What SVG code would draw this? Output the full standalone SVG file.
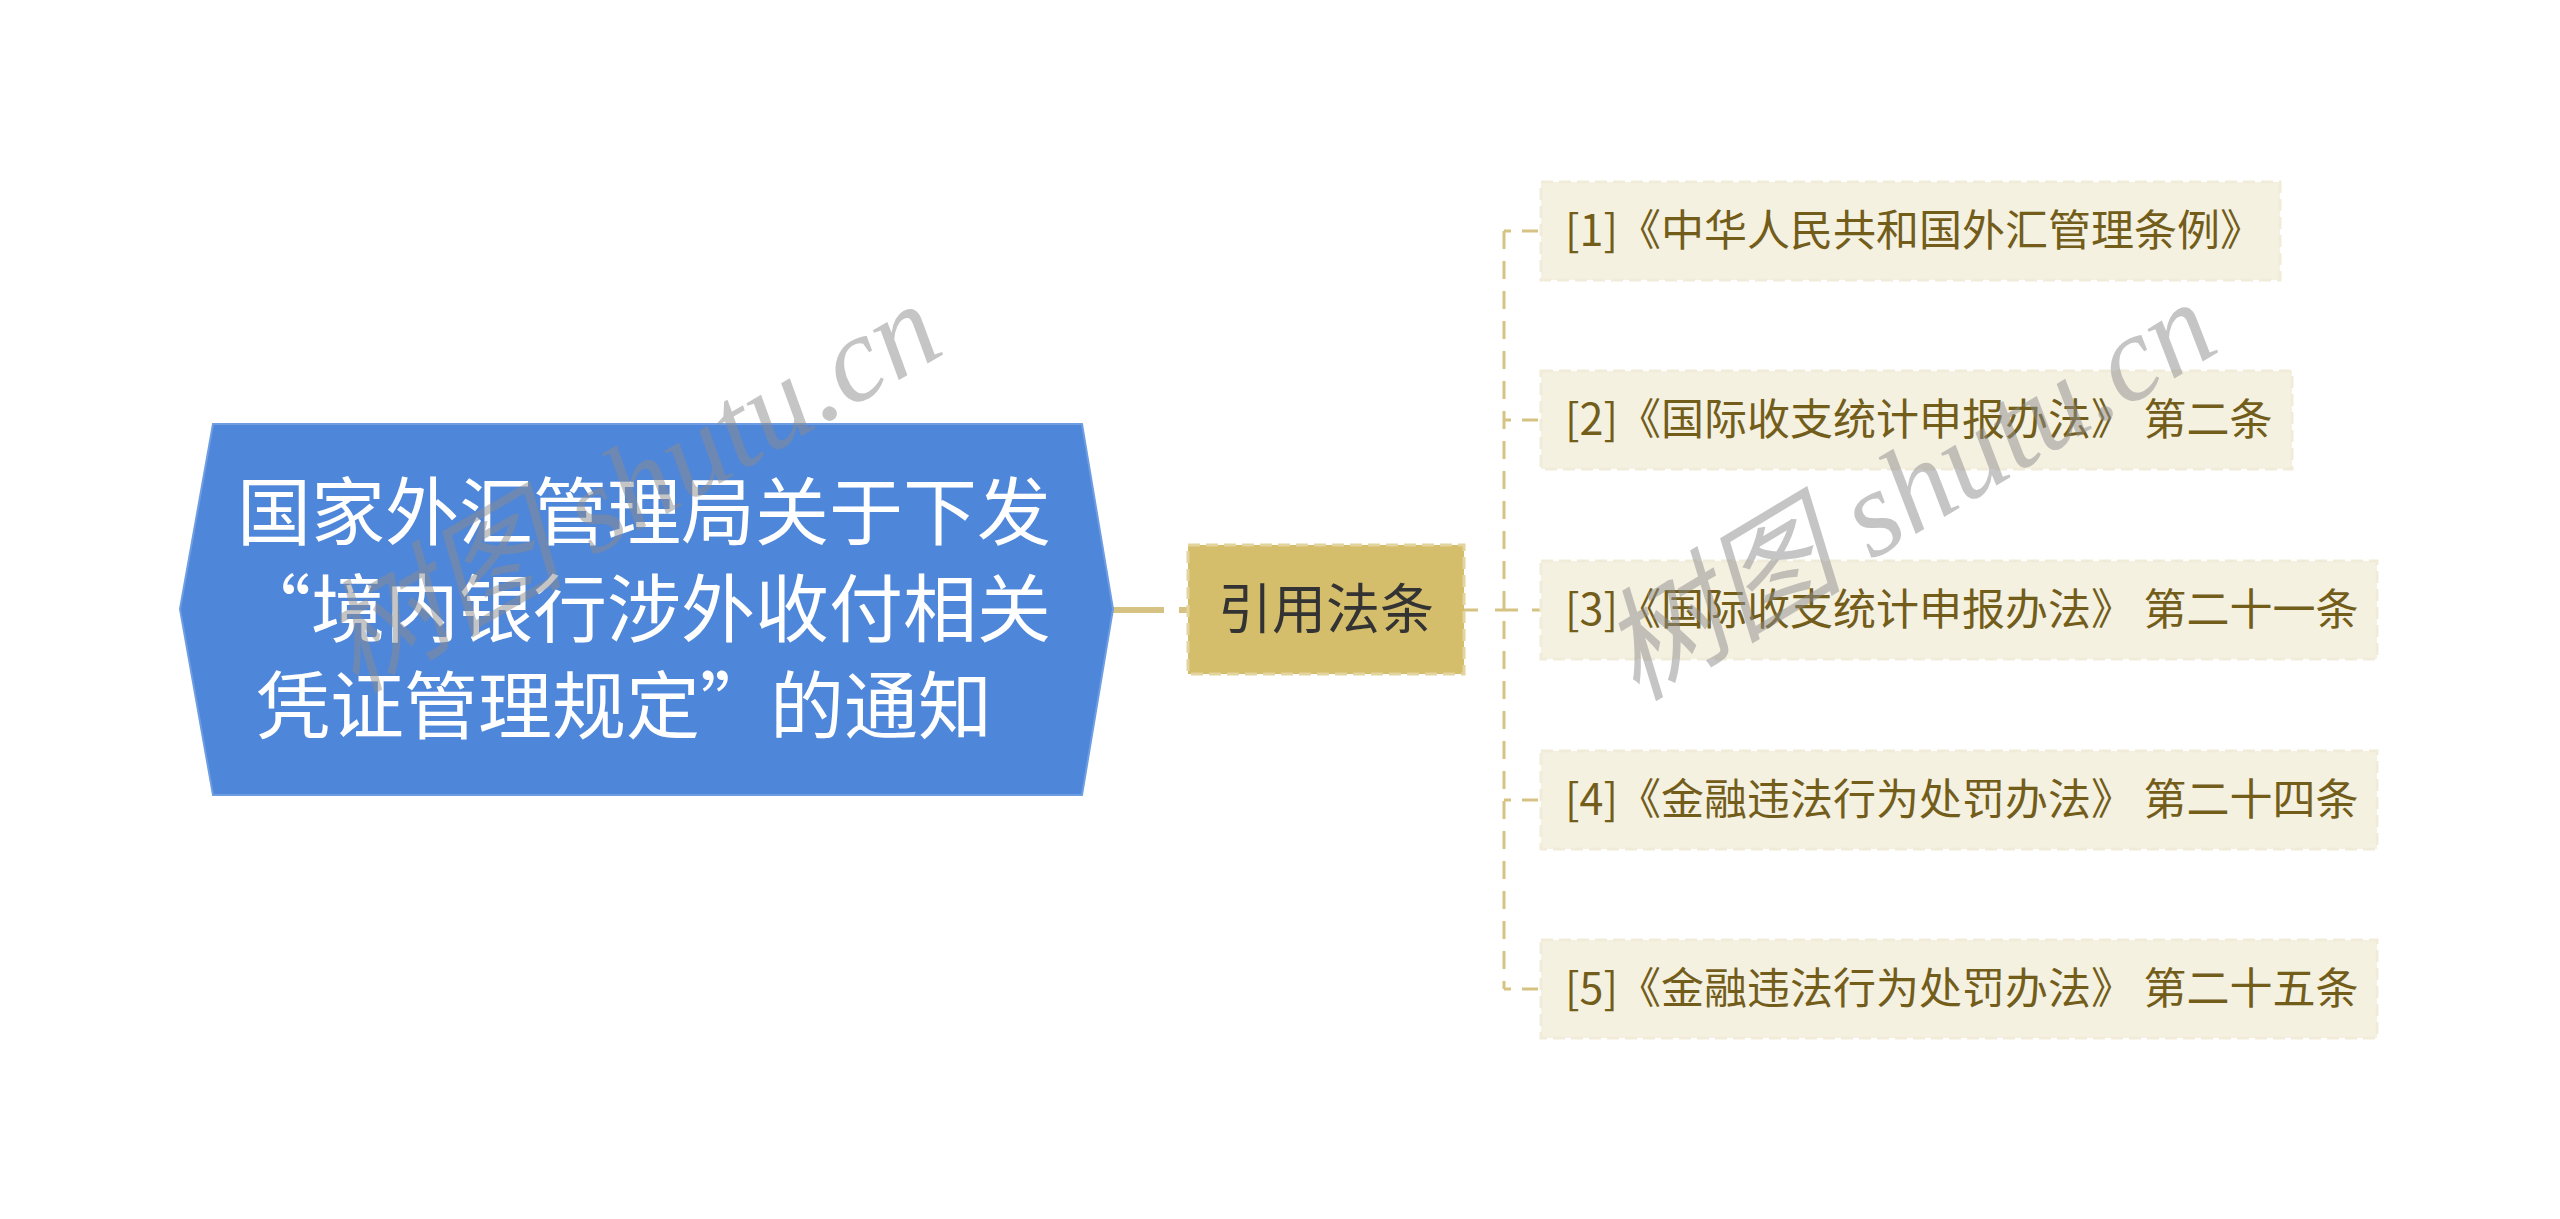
<svg xmlns="http://www.w3.org/2000/svg" width="2560" height="1219" viewBox="0 0 2560 1219">
<style>
.cjk{font-family:"Noto Sans CJK SC","Noto Sans",sans-serif;}
.root{fill:#4E86DA;stroke:#6E9DE2;stroke-width:2;}
.rootText{fill:#FFFFFF;font-size:74px;}
.mid{fill:#D4BD6B;stroke:#E3D49E;stroke-width:3;stroke-dasharray:12 6;}
.midText{fill:#333333;font-size:54px;}
.leaf{fill:#F5F1E1;stroke:#F1ECDA;stroke-width:3;stroke-dasharray:12 6;}
.leafText{fill:#735D1B;font-size:43px;}
.conn{fill:none;stroke:#D6C383;stroke-width:3;}
.wm{font-family:"Liberation Serif","Noto Sans CJK SC",serif;font-style:italic;font-size:122px;fill:#8C8C8C;fill-opacity:0.5;}
</style>
<rect width="2560" height="1219" fill="#FFFFFF"/>
<g id="connectors">
<line x1="1112" y1="610" x2="1164" y2="610" stroke="#D6C383" stroke-width="6"/>
<line x1="1179" y1="610" x2="1190" y2="610" stroke="#D6C383" stroke-width="6"/>
<line class="conn" x1="1464" y1="610" x2="1541" y2="610" stroke-dasharray="14 17 23 14 9 100"/>
<line class="conn" x1="1504" y1="231" x2="1504" y2="989" stroke-dasharray="18 12"/>
<line class="conn" x1="1504" y1="231" x2="1511" y2="231"/>
<line class="conn" x1="1522" y1="231" x2="1538" y2="231"/>
<line class="conn" x1="1504" y1="420" x2="1511" y2="420"/>
<line class="conn" x1="1522" y1="420" x2="1538" y2="420"/>
<line class="conn" x1="1504" y1="800" x2="1511" y2="800"/>
<line class="conn" x1="1522" y1="800" x2="1538" y2="800"/>
<line class="conn" x1="1504" y1="989" x2="1511" y2="989"/>
<line class="conn" x1="1522" y1="989" x2="1538" y2="989"/>
</g>
<g id="root">
<polygon class="root" points="180,609 213,424 1082,424 1113,609 1082,795 213,795"/>
<text class="cjk rootText" x="1051" y="539" text-anchor="end">国家外汇管理局关于下发</text>
<text class="cjk rootText" x="1051" y="636" text-anchor="end">“境内银行涉外收付相关</text>
<text class="cjk rootText" x="256" y="733">凭证管理规定”<tspan x="770">的通知</tspan></text>
</g>
<g id="mid">
<rect class="mid" x="1188" y="545" width="276" height="129"/>
<text class="cjk midText" x="1326" y="629" text-anchor="middle">引用法条</text>
</g>
<g id="leaf1">
<rect class="leaf" x="1541" y="182" width="739" height="98"/>
<text class="cjk leafText" x="1565" y="246">[1]《中华人民共和国外汇管理条例》</text>
</g>
<g id="leaf2">
<rect class="leaf" x="1541" y="371" width="751" height="98"/>
<text class="cjk leafText" x="1565" y="435">[2]《国际收支统计申报办法》 第二条</text>
</g>
<g id="leaf3">
<rect class="leaf" x="1541" y="561" width="836" height="98"/>
<text class="cjk leafText" x="1565" y="625">[3]《国际收支统计申报办法》 第二十一条</text>
</g>
<g id="leaf4">
<rect class="leaf" x="1541" y="751" width="836" height="98"/>
<text class="cjk leafText" x="1565" y="815">[4]《金融违法行为处罚办法》 第二十四条</text>
</g>
<g id="leaf5">
<rect class="leaf" x="1541" y="940" width="836" height="98"/>
<text class="cjk leafText" x="1565" y="1004">[5]《金融违法行为处罚办法》 第二十五条</text>
</g>
<g id="watermarks">
<text class="wm" x="355" y="694" transform="rotate(-30 355 694)">树图 shutu.cn</text>
<text class="wm" x="1636" y="702" transform="rotate(-31 1636 702)">树图 shutu.cn</text>
</g>
</svg>
